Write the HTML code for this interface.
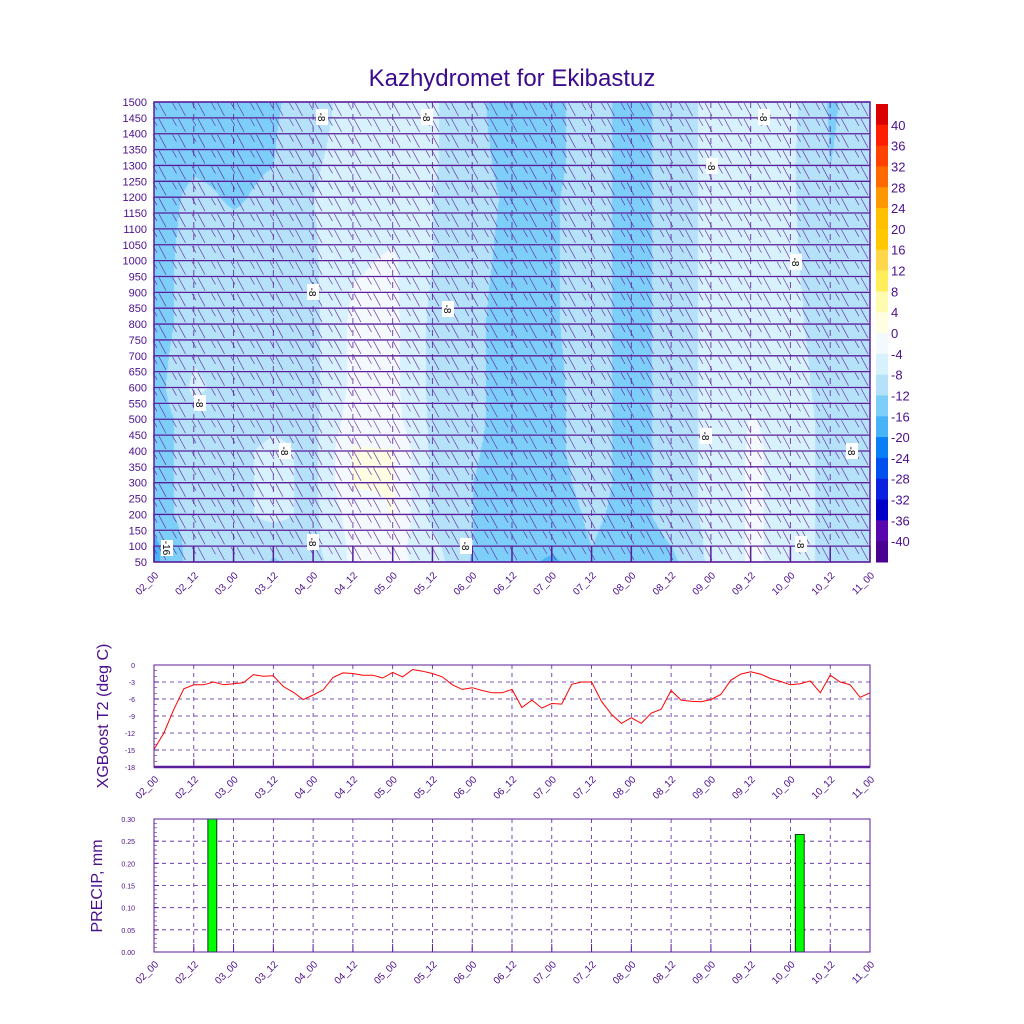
<!DOCTYPE html>
<html><head><meta charset="utf-8"><style>
body{margin:0;background:#fff;width:1024px;height:1024px;overflow:hidden;position:relative;font-family:"Liberation Sans",sans-serif}
#fill{position:absolute;left:0;top:0}
#svg{position:absolute;left:0;top:0}
</style></head><body>
<canvas id="fill" width="1024" height="1024"></canvas>
<svg id="svg" width="1024" height="1024" xmlns="http://www.w3.org/2000/svg">
<text x="512" y="86" text-anchor="middle" font-size="24" fill="#3c0a8c">Kazhydromet for Ekibastuz</text>
<g id="topg"></g><g id="cbar"></g><g id="t2"></g><g id="pr"></g>
</svg>
<script>
const timeLabels=["02_00","02_12","03_00","03_12","04_00","04_12","05_00","05_12","06_00","06_12","07_00","07_12","08_00","08_12","09_00","09_12","10_00","10_12","11_00"];
const levels=[50,100,200,300,400,500,600,800,1000,1200,1300,1500];
const field=[
[-17,-17,-14,-14,-14,-14,-14,-14,-14,-14,-14,-14],
[-10,-10,-10,-10,-10,-10,-7,-10,-10,-11,-12.5,-13.5],
[-9,-9,-9,-9,-9,-10,-10,-10,-10,-12.5,-13,-13],
[-12.5,-11,-7,-7,-7,-9,-10,-10,-10,-11,-12,-12.5],
[-10,-9,-9,-9,-9,-9,-9,-9,-8.5,-8,-8.5,-10],
[-3,-3,-2,0.4,0.4,-2,-3,-3,-4.5,-6,-6,-6],
[-2.5,-2.5,0.2,0.2,0.2,-2.5,-3,-3,-3.5,-6,-6,-6],
[-6,-7,-9,-9,-9,-9,-9,-9,-8,-8,-7.5,-7.5],
[-12.5,-12,-12,-12,-11.5,-11,-11,-11,-11,-11,-11,-11],
[-14,-14,-14,-14,-14,-14,-14,-14,-13,-12.5,-13,-14],
[-17,-15,-15,-14,-13,-13,-13,-12.5,-12.5,-12.5,-13,-13],
[-12.5,-12,-11,-10,-10,-10,-10,-10,-10,-10,-10,-10],
[-15,-15,-14,-14,-14,-14,-14,-14,-14,-14,-14,-14],
[-13,-12,-10,-10,-10,-10,-10,-10,-10,-10,-10,-10],
[-7,-7,-7,-7,-7,-7,-7,-7,-7,-7,-7,-7],
[-3.5,-3.5,-3.5,-3.5,-3.5,-3.8,-5,-6,-6,-6,-6,-6],
[-5,-5,-5,-5,-5,-5,-6,-7,-7.5,-7.5,-7.5,-7],
[-10,-10,-10,-10,-10,-10,-10,-10,-10,-11,-12,-12.5],
[-10,-10,-10,-10,-10,-10,-10,-10,-10,-10,-10,-10]];
const cbColors=["#d80000","#ff1e00","#ff4200","#ff6a00","#ff9800","#ffc000","#ffc800","#ffd84a","#ffee5a","#fffbb0","#fffee2","#f4f9fe","#d8f2fd","#b5e2f9","#7dcffa","#48b3f7","#0a7ef7","#0050f0","#0a22e0","#0000c8","#5a06ad","#4a0090"];
const cbLabels=["40","36","32","28","24","20","16","12","8","4","0","-4","-8","-12","-16","-20","-24","-28","-32","-36","-40"];
const t2Ticks=["0","-3","-6","-9","-12","-15","-18"];
const t2Values=[-14.9,-12,-7.8,-4.2,-3.5,-3.5,-3,-3.5,-3.3,-3.1,-1.7,-2,-1.9,-3.8,-4.8,-6.1,-5.3,-4.4,-2.2,-1.4,-1.5,-1.8,-1.8,-2.3,-1.3,-2.1,-0.8,-1.1,-1.5,-2.1,-3.5,-4.3,-4,-4.5,-4.9,-4.9,-4.3,-7.5,-6.2,-7.6,-6.8,-6.9,-3.4,-3,-3,-6.4,-8.7,-10.3,-9.3,-10.3,-8.5,-7.8,-4.5,-6.2,-6.4,-6.5,-6.1,-5.2,-2.7,-1.6,-1.2,-1.6,-2.4,-2.9,-3.5,-3.3,-2.8,-4.9,-1.8,-3,-3.5,-5.7,-4.9];
const prTicks=["0.30","0.25","0.20","0.15","0.10","0.05","0.00"];
const prHours=[17.6,194.8];
const prValues=[0.30,0.265];

const NS="http://www.w3.org/2000/svg";
function mk(p,tag,at,txt){const e=document.createElementNS(NS,tag);for(const k in at)e.setAttribute(k,at[k]);if(txt!==undefined)e.textContent=txt;p.appendChild(e);return e;}
const PUR="#4b0f8c",LINE="#5a1e9a";
const X0=154,X1=870,HRS=216;
const xH=h=>X0+(X1-X0)*h/HRS;
const TY0=102,TY1=562;
const yL=l=>TY1-(TY1-TY0)*(l-50)/1450;
function valAt(h,l){
  let ti=h/12;let i=Math.min(Math.floor(ti),17);let ft=ti-i;
  let j=0;while(j<levels.length-2&&l>levels[j+1])j++;
  let fl=(l-levels[j])/(levels[j+1]-levels[j]);fl=Math.max(0,Math.min(1,fl));
  const a=field[i][j]*(1-fl)+field[i][j+1]*fl, b=field[i+1][j]*(1-fl)+field[i+1][j+1]*fl;
  return a*(1-ft)+b*ft;
}
function hex(c){return [parseInt(c.substr(1,2),16),parseInt(c.substr(3,2),16),parseInt(c.substr(5,2),16)];}
const rgb=cbColors.map(hex);
const ctx=document.getElementById('fill').getContext('2d');
const img=ctx.createImageData(X1-X0,TY1-TY0);
for(let y=0;y<TY1-TY0;y++)for(let x=0;x<X1-X0;x++){
  const h=x/(X1-X0)*HRS,l=1500-y/(TY1-TY0)*1450;const v=valAt(h,l);
  let k=Math.floor((44-v)/4);k=Math.max(0,Math.min(21,k));const c=rgb[k];const o=(y*(X1-X0)+x)*4;
  img.data[o]=c[0];img.data[o+1]=c[1];img.data[o+2]=c[2];img.data[o+3]=255;}
ctx.putImageData(img,X0,TY0);
const topG=document.getElementById('topg');
for(let i=1;i<18;i++){const x=xH(i*12);const g=mk(topG,'line',{x1:x,y1:TY0,x2:x,y2:TY1,stroke:LINE,'stroke-width':1,'stroke-dasharray':'6,6',opacity:0.8});}
for(let l=100;l<=1500;l+=50){for(let c=0;c<=36;c++){const x=X0+8+c*(X1-X0-14)/36,y=yL(l)+1;
  const b=mk(topG,'path',{d:`M${x-3} ${y}L${x+4} ${y+13}M${x-9} ${y}L${x-5} ${y+7}`,stroke:LINE,'stroke-width':0.7,fill:'none',opacity:0.85});}}
for(let l=50;l<=1500;l+=50){const y=yL(l);
  const hl=mk(topG,'line',{x1:X0,y1:y,x2:X1,y2:y,stroke:LINE,'stroke-width':1.3});
  const t=mk(topG,'text',{x:147,y:y+4,'text-anchor':'end','font-size':11,fill:PUR},String(l));}
for(let i=0;i<19;i++){const x=xH(i*12);
  const tk=mk(topG,'line',{x1:x,y1:yL(100),x2:x,y2:TY1,stroke:LINE,'stroke-width':1.5});
  const t=mk(topG,'text',{x:x+5,y:TY1+14,'text-anchor':'end','font-size':10,fill:PUR,transform:`rotate(-45 ${x+5} ${TY1+14})`},timeLabels[i]);}
const fr=mk(topG,'rect',{x:X0,y:TY0,width:X1-X0,height:TY1-TY0,fill:'none',stroke:LINE,'stroke-width':1.5});
[[322,117,"-8"],[427,117,"-8"],[764,117,"-8"],[712,166,"-8"],[796,262,"-8"],[313,292,"-8"],[448,309,"-8"],[200,403,"-8"],[285,451,"-8"],[706,436,"-8"],[852,451,"-8"],[313,542,"-8"],[466,546,"-8"],[801,544,"-8"],[167,548,"-16"]].forEach(d=>{
  const g=mk(topG,'g',{transform:`rotate(90 ${d[0]} ${d[1]})`});
  mk(g,'rect',{x:d[0]-8,y:d[1]-6,width:16,height:12,fill:'#fff'});
  mk(g,'text',{x:d[0],y:d[1]+4,'text-anchor':'middle','font-size':10,fill:'#000'},d[2]);});
const cb=document.getElementById('cbar');const CY0=104,CY1=562,ch=(CY1-CY0)/22;
cbColors.forEach((c,k)=>{const r=mk(cb,'rect',{x:876,y:CY0+k*ch,width:12,height:ch+0.5,fill:c});});
cbLabels.forEach((s,k)=>{const t=mk(cb,'text',{x:891,y:CY0+(k+1)*ch+5,'font-size':13,fill:PUR},s);});
const t2=document.getElementById('t2');const PY0=665,PY1=767;
const yT=v=>PY0+(PY1-PY0)*(-v)/18;
for(let i=1;i<6;i++){const y=yT(-3*i);const g=mk(t2,'line',{x1:X0,y1:y,x2:X1,y2:y,stroke:LINE,'stroke-width':0.8,'stroke-dasharray':'4,4'});}
for(let i=1;i<18;i++){const x=xH(i*12);const g=mk(t2,'line',{x1:x,y1:PY0,x2:x,y2:PY1,stroke:LINE,'stroke-width':0.8,'stroke-dasharray':'4,4'});}
t2Ticks.forEach((s,k)=>{const y=yT(-3*k);const t=mk(t2,'text',{x:135,y:y+3,'text-anchor':'end','font-size':7,fill:PUR},s);mk(t2,'line',{x1:X0,y1:y,x2:X0+5,y2:y,stroke:LINE});});
for(let v=0;v<=18;v+=1){mk(t2,'line',{x1:X0,y1:yT(-v),x2:X0+3,y2:yT(-v),stroke:LINE,'stroke-width':0.6});}
mk(t2,'line',{x1:X0,y1:PY1,x2:X1,y2:PY1,stroke:LINE,'stroke-width':2.5});
const tp=t2Values.map((v,i)=>`${i?'L':'M'}${xH(i*3).toFixed(1)} ${yT(v).toFixed(1)}`).join('');
const ln=mk(t2,'path',{d:tp,stroke:'#ff0000','stroke-width':1,fill:'none'});
for(let i=0;i<19;i++){const x=xH(i*12);mk(t2,'line',{x1:x,y1:PY1-8,x2:x,y2:PY1,stroke:LINE});
  const t=mk(t2,'text',{x:x+5,y:PY1+13,'text-anchor':'end','font-size':10,fill:PUR,transform:`rotate(-45 ${x+5} ${PY1+13})`},timeLabels[i]);}
const f2=mk(t2,'rect',{x:X0,y:PY0,width:X1-X0,height:PY1-PY0,fill:'none',stroke:LINE,'stroke-width':1});
const yl=mk(t2,'text',{x:108,y:716,'text-anchor':'middle','font-size':16,fill:PUR,transform:'rotate(-90 108 716)'},'XGBoost T2 (deg C)');
const pr=document.getElementById('pr');const QY0=819,QY1=952;
const yP=v=>QY1-(QY1-QY0)*v/0.30;
for(let i=1;i<6;i++){const y=yP(0.05*i);const g=mk(pr,'line',{x1:X0,y1:y,x2:X1,y2:y,stroke:LINE,'stroke-width':0.8,'stroke-dasharray':'4,4'});}
for(let i=1;i<18;i++){const x=xH(i*12);const g=mk(pr,'line',{x1:x,y1:QY0,x2:x,y2:QY1,stroke:LINE,'stroke-width':0.8,'stroke-dasharray':'4,4'});}
prTicks.forEach((s,k)=>{const y=QY0+k*(QY1-QY0)/6;const t=mk(pr,'text',{x:135,y:y+3,'text-anchor':'end','font-size':7,fill:PUR},s);mk(pr,'line',{x1:X0,y1:y,x2:X0+5,y2:y,stroke:LINE});});
for(let v=0;v<=0.3001;v+=0.01){mk(pr,'line',{x1:X0,y1:yP(v),x2:X0+3,y2:yP(v),stroke:LINE,'stroke-width':0.6});}
prHours.forEach((h,i)=>{const w=xH(2.7)-xH(0);const b=mk(pr,'rect',{x:xH(h)-w/2,y:yP(prValues[i]),width:w,height:QY1-yP(prValues[i]),fill:'#00ff00',stroke:'#000','stroke-width':0.8});});
for(let i=0;i<19;i++){const x=xH(i*12);mk(pr,'line',{x1:x,y1:QY1-8,x2:x,y2:QY1,stroke:LINE});
  const t=mk(pr,'text',{x:x+5,y:QY1+13,'text-anchor':'end','font-size':10,fill:PUR,transform:`rotate(-45 ${x+5} ${QY1+13})`},timeLabels[i]);}
const f3=mk(pr,'rect',{x:X0,y:QY0,width:X1-X0,height:QY1-QY0,fill:'none',stroke:LINE,'stroke-width':1});
const yl2=mk(pr,'text',{x:102,y:886,'text-anchor':'middle','font-size':16,fill:PUR,transform:'rotate(-90 102 886)'},'PRECIP, mm');
</script>
</body></html>
